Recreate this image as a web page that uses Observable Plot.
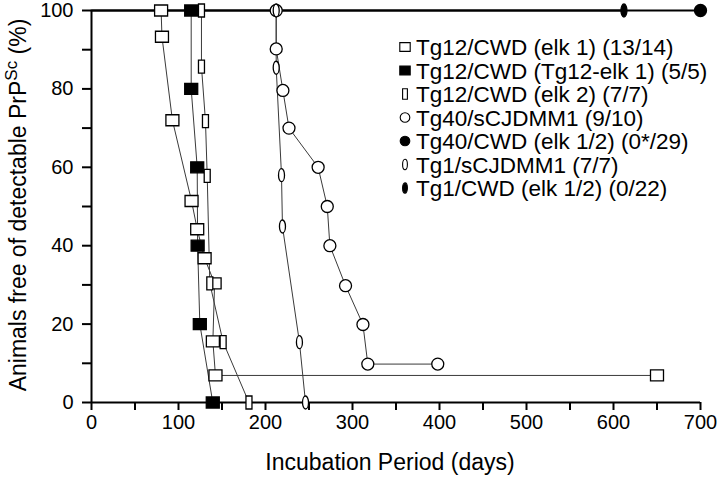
<!DOCTYPE html>
<html><head><meta charset="utf-8">
<script src="https://cdn.jsdelivr.net/npm/d3@7"></script>
<script src="https://cdn.jsdelivr.net/npm/@observablehq/plot@0.6"></script>
<style>body{margin:0;background:#fff;}</style>
</head><body><div id="chart"></div>
<script>
// ---- data ----
const seriesNames = [
  "Tg12/CWD (elk 1) (13/14)",
  "Tg12/CWD (Tg12-elk 1) (5/5)",
  "Tg12/CWD (elk 2) (7/7)",
  "Tg40/sCJDMM1 (9/10)",
  "Tg40/CWD (elk 1/2) (0*/29)",
  "Tg1/sCJDMM1 (7/7)",
  "Tg1/CWD (elk 1/2) (0/22)"
];
const elk1Days  = [80, 81, 93, 115, 121.5, 130, 141.5, 139.5, 142.5, 650];
const elk1Pct   = [100, 93.3, 72, 51.4, 44.2, 36.8, 30.4, 15.6, 6.9, 6.9];
const tgElkDays = [114.6, 114.6, 121.5, 122, 124.5, 139.4];
const tgElkPct  = [100, 80, 60, 40, 20, 0];
const elk2Days  = [126.4, 126.4, 131, 133, 136, 151.3, 181];
const elk2Pct   = [100, 85.7, 71.8, 57.8, 30.4, 15.4, 0];
const tg40sDays = [212.3, 212.3, 220, 227, 260.5, 271, 274, 292, 312, 317.6, 398];
const tg40sPct  = [100, 90.2, 79.6, 70, 60, 50, 40, 29.8, 19.9, 9.8, 9.8];
const tg40cDays = [700];
const tg40cPct  = [100];
const tg1sDays  = [212.3, 212.3, 218.4, 219.5, 239, 246];
const tg1sPct   = [100, 85.4, 58, 44.9, 15.4, 0];
const tg1cDays  = [612];
const tg1cPct   = [100];
const startDay = 0, startPct = 100;
const xTicks = d3.range(0, 701, 50);
const yTicks = d3.range(0, 101, 10);

// ---- symbols ----
const sqSym   = {draw(c){ c.rect(-6.5, -5.5, 13, 11); }};
const tallSym = {draw(c){ c.rect(-3, -6.5, 6, 13); }};
const circSym = {draw(c){ c.moveTo(6, 0); c.arc(0, 0, 6, 0, 2*Math.PI); c.closePath(); }};
function ellipseSym(rx, ry){
  const k = 0.5523;
  return {draw(c){
    c.moveTo(rx, 0);
    c.bezierCurveTo(rx, ry*k, rx*k, ry, 0, ry);
    c.bezierCurveTo(-rx*k, ry, -rx, ry*k, -rx, 0);
    c.bezierCurveTo(-rx, -ry*k, -rx*k, -ry, 0, -ry);
    c.bezierCurveTo(rx*k, -ry, rx, -ry*k, rx, 0);
    c.closePath();
  }};
}
const ellSym = ellipseSym(3, 6.5);

const defs = [
  {days: elk1Days,  pct: elk1Pct,  sym: sqSym,   fill: "white"},
  {days: tgElkDays, pct: tgElkPct, sym: sqSym,   fill: "black"},
  {days: elk2Days,  pct: elk2Pct,  sym: tallSym, fill: "white"},
  {days: tg40sDays, pct: tg40sPct, sym: circSym, fill: "white"},
  {days: tg40cDays, pct: tg40cPct, sym: circSym, fill: "black"},
  {days: tg1sDays,  pct: tg1sPct,  sym: ellSym,  fill: "white"},
  {days: tg1cDays,  pct: tg1cPct,  sym: ellSym,  fill: "black"}
];
const series = defs.map((d, i) => ({
  name: seriesNames[i], sym: d.sym, fill: d.fill,
  points: d.days.map((x, j) => ({x, y: d.pct[j]})),
  linePts: [{x: startDay, y: startPct}, ...d.days.map((x, j) => ({x, y: d.pct[j]}))]
}));

const FONT = "Liberation Sans, Arial, Helvetica, sans-serif";
const marks = [];
series.forEach((s, i) => {
  const top = (i === 4 || i === 6);
  marks.push(Plot.line(s.linePts, {x: "x", y: "y", stroke: top ? "black" : "#3a3a3a", strokeWidth: top ? 2 : 1}));
});
marks.push(Plot.ruleX([0], {stroke: "black", strokeWidth: 2}));
marks.push(Plot.ruleY([0], {stroke: "black", strokeWidth: 2}));
marks.push(Plot.axisX({ticks: xTicks, tickFormat: d => d % 100 === 0 ? d : "", tickSize: 8, tickPadding: 4, label: null, strokeWidth: 2, fontSize: 20}));
marks.push(Plot.axisY({ticks: yTicks, tickFormat: d => d % 20 === 0 ? d : "", tickSize: 9, tickPadding: 9, label: null, strokeWidth: 2, fontSize: 20}));
series.forEach(s => {
  marks.push(Plot.dot(s.points, {x: "x", y: "y", symbol: s.sym, r: 6, fill: s.fill, stroke: "black", strokeWidth: 1.3}));
});

const plot = Plot.plot({
  width: 720, height: 478,
  marginLeft: 91, marginRight: 20, marginTop: 10, marginBottom: 76,
  x: {domain: [0, 700]},
  y: {domain: [0, 100]},
  style: {fontSize: "20px", fontFamily: FONT, color: "black", background: "white", overflow: "visible"},
  marks
});
document.getElementById("chart").appendChild(plot);

// ---- axis titles and legend ----
const svg = d3.select(plot);
svg.append("text")
  .attr("x", 390).attr("y", 470)
  .attr("text-anchor", "middle")
  .style("font-size", "23px").style("font-family", FONT)
  .attr("fill", "black")
  .text("Incubation Period (days)");
const yl = svg.append("text")
  .attr("transform", "translate(26,205) rotate(-90)")
  .attr("text-anchor", "middle")
  .style("font-size", "23px").style("font-family", FONT)
  .attr("fill", "black");
yl.append("tspan").text("Animals free of detectable PrP");
yl.append("tspan").attr("dy", -9).style("font-size", "17px").text("Sc");
yl.append("tspan").attr("dy", 9).text(" (%)");

const lg = svg.append("g");
series.forEach((s, i) => {
  const y = 47 + i * 23.5;
  lg.append("path")
    .attr("d", d3.symbol(s.sym)())
    .attr("transform", `translate(405,${y}) scale(0.8)`)
    .attr("fill", s.fill).attr("stroke", "black").attr("stroke-width", 1.4);
  lg.append("text")
    .attr("x", 416).attr("y", y).attr("dy", "0.36em")
    .attr("text-anchor", "start")
    .style("font-size", "22.5px").style("font-family", FONT)
    .attr("fill", "black")
    .text(s.name);
});
</script>
</body></html>
